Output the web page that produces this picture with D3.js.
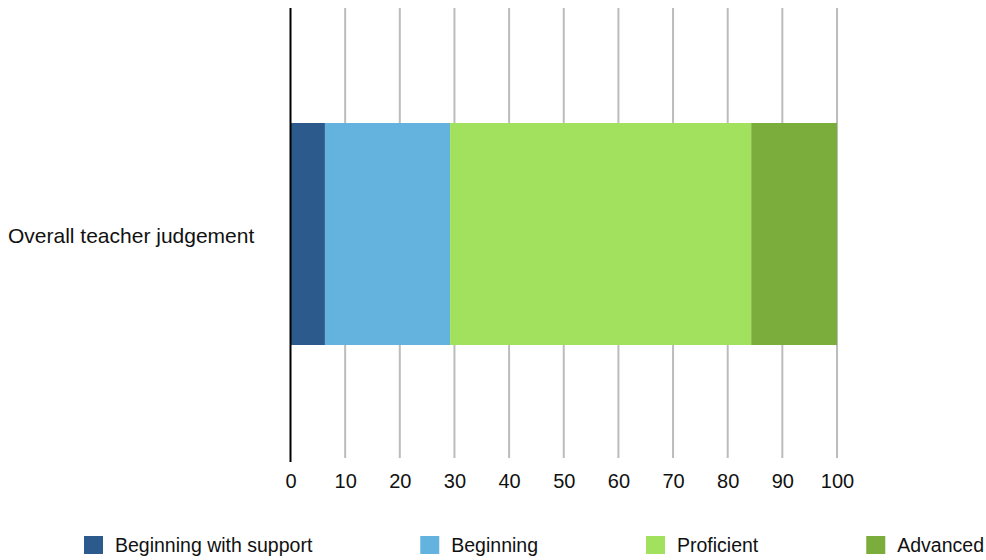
<!DOCTYPE html>
<html>
<head>
<meta charset="utf-8">
<script src="https://cdn.jsdelivr.net/npm/d3@7"></script>
<style>
  html, body { margin: 0; padding: 0; background: #fff; }
  svg { display: block; font-family: "Liberation Sans", Arial, Helvetica, sans-serif; }
</style>
</head>
<body>
<svg id="chart" width="986" height="560"></svg>
<script>
const categories = ["Overall teacher judgement"];
const seriesNames = ["Beginning with support", "Beginning", "Proficient", "Advanced"];
const beginningWithSupport = [6.3];
const beginning = [22.9];
const proficient = [55.1];
const advanced = [15.7];
const tickValues = [0, 10, 20, 30, 40, 50, 60, 70, 80, 90, 100];
const colors = ["#2c5a8c", "#63b3de", "#a1e15d", "#7aad3b"];

const seriesValues = [beginningWithSupport, beginning, proficient, advanced];
const rows = categories.map((c, i) => {
  const r = { category: c };
  seriesNames.forEach((s, j) => r[s] = seriesValues[j][i]);
  return r;
});

const svg = d3.select("#chart");
const x = d3.scaleLinear().domain([0, 100]).range([290.5, 837]);
const y = d3.scaleBand().domain(categories).range([8, 460]).paddingInner(0).paddingOuter(0.518);

// gridlines
svg.append("g")
  .selectAll("line")
  .data(tickValues.filter(d => d !== 0))
  .join("line")
  .attr("x1", d => x(d)).attr("x2", d => x(d))
  .attr("y1", 8).attr("y2", 458)
  .attr("stroke", "#bcbcbc").attr("stroke-width", 2);

// stacked bars
const stack = d3.stack().keys(seriesNames)(rows);
svg.append("g")
  .selectAll("g")
  .data(stack)
  .join("g")
  .attr("fill", (d, i) => colors[i])
  .selectAll("rect")
  .data(d => d)
  .join("rect")
  .attr("x", d => x(d[0]))
  .attr("width", d => x(d[1]) - x(d[0]))
  .attr("y", d => y(d.data.category))
  .attr("height", y.bandwidth());

// axis line
svg.append("line")
  .attr("x1", x(0)).attr("x2", x(0))
  .attr("y1", 8).attr("y2", 462)
  .attr("stroke", "#000").attr("stroke-width", 2);

// x axis tick labels
const xAxis = d3.axisBottom(x).tickValues(tickValues).tickSize(0).tickPadding(0).tickFormat(d3.format("d"));
const gx = svg.append("g").attr("transform", "translate(0,488)").call(xAxis);
gx.select(".domain").remove();
gx.selectAll("text")
  .attr("y", 0)
  .attr("font-size", 20).attr("fill", "#111")
  .attr("font-family", "Liberation Sans, Arial, sans-serif")
  .attr("dy", "0");

// y category labels
const yAxis = d3.axisLeft(y).tickSize(0).tickPadding(0);
const gy = svg.append("g").attr("transform", "translate(8,0)").call(yAxis);
gy.select(".domain").remove();
gy.selectAll("text")
  .attr("text-anchor", "start")
  .attr("font-size", 21).attr("fill", "#111")
  .attr("font-family", "Liberation Sans, Arial, sans-serif")
  .attr("dy", "0.45em");

// legend: items spread evenly between x=84 and x=984
const legend = svg.append("g").attr("transform", "translate(84,536)");
const items = seriesNames.map((name, i) => {
  const g = legend.append("g");
  g.append("rect").attr("width", 19).attr("height", 18).attr("fill", colors[i]);
  const t = g.append("text").attr("x", 31).attr("y", 16)
    .attr("font-size", 19.5).attr("fill", "#111").text(name);
  return { g, w: 31 + t.node().getComputedTextLength() };
});
const totalW = d3.sum(items, d => d.w);
const gap = (984 - 84 - totalW) / (items.length - 1);
let lx = 0;
items.forEach(it => {
  it.g.attr("transform", `translate(${lx},0)`);
  lx += it.w + gap;
});
</script>
</body>
</html>
